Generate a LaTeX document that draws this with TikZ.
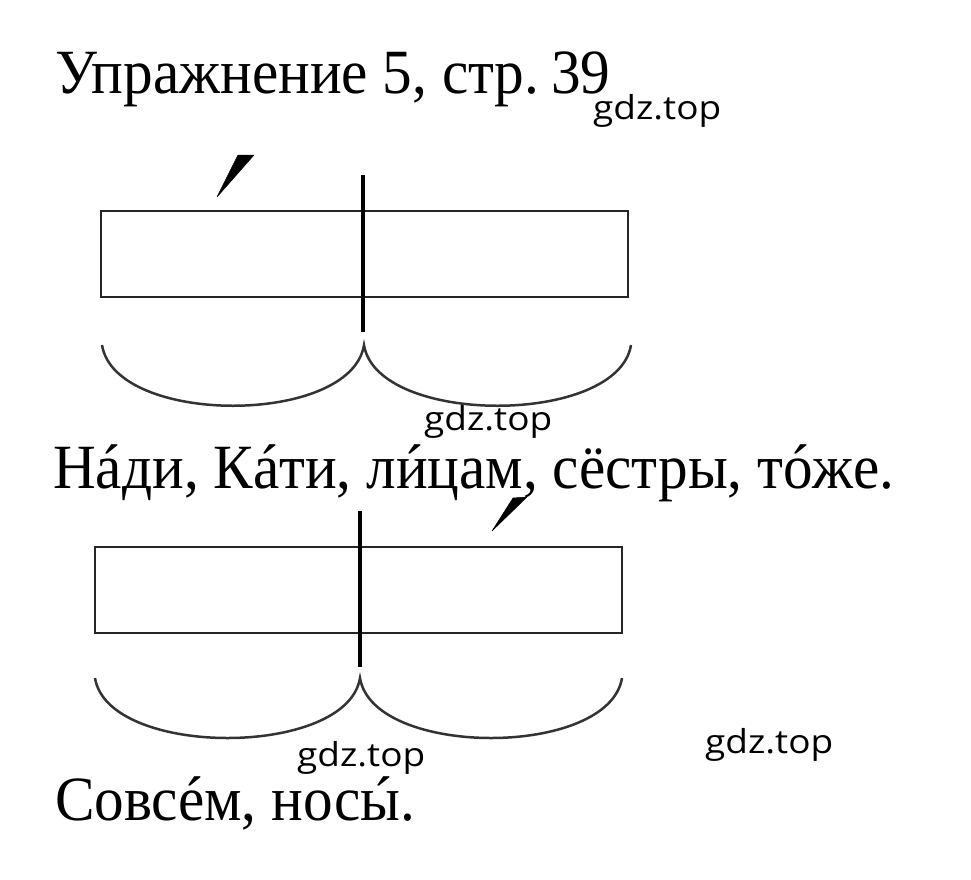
\documentclass[tikz,border=0pt]{standalone}
\usepackage{fontspec}
\setmainfont[FakeStretch=0.94]{Liberation Serif}
\newfontfamily\wmfont[FakeStretch=1.12]{Open Sans}
\newcommand\udar[1]{\ooalign{#1\cr\hidewidth\kern0.08em\char"00B4\hidewidth\cr}}
\begin{document}
\begin{tikzpicture}[x=1pt,y=-1pt,
  wm/.style={font=\wmfont\fontsize{33}{33}\selectfont, anchor=base west, inner sep=0pt},
  txt/.style={font=\fontsize{63}{63}\selectfont, anchor=base west, inner sep=0pt},
  frame/.style={draw=black!85, line width=2pt},
  divider/.style={draw=black, line width=4pt},
  brace/.style={draw=black!80, line width=2.5pt},
  accent/.style={fill=black, draw=black, line width=0.5pt, line join=round}]
\useasboundingbox (0,0) rectangle (971,879);
% texts
\node[txt] (title) at (55,93) {Упражнение 5, стр.\kern-0.05em\ 39};
\node[txt] (words1) at (53,488) {Н\udar{а}ди, К\udar{а}ти, л\udar{и}цам, сёстры, т\udar{о}же.};
\node[txt] (words2) at (55,820) {Совс\udar{е}м, нос\udar{ы}.};
% watermarks
\node[wm] (wm1) at (593,119) {gdz.top};
\node[wm] (wm2) at (424,430) {gdz.top};
\node[wm] (wm3) at (297,766) {gdz.top};
\node[wm] (wm4) at (705,753) {gdz.top};
% scheme 1
\draw[frame] (101,211) rectangle (628,297);
\draw[divider] (363,175) -- (363,332);
\draw[brace] (102,345) .. controls (115,426) and (351,426) .. (364,345)
  .. controls (377,426) and (618,426) .. (631,345);
\filldraw[accent] (217,197) -- (238,155) -- (254,155) -- cycle;
% scheme 2
\draw[frame] (95,547) rectangle (622,633);
\draw[divider] (360,511) -- (360,667);
\draw[brace] (95,678) .. controls (108,758) and (347,758) .. (360,678)
  .. controls (373,758) and (609,758) .. (622,678);
\filldraw[accent] (492,531) -- (513,498) -- (527,497) -- cycle;
\end{tikzpicture}
\end{document}
